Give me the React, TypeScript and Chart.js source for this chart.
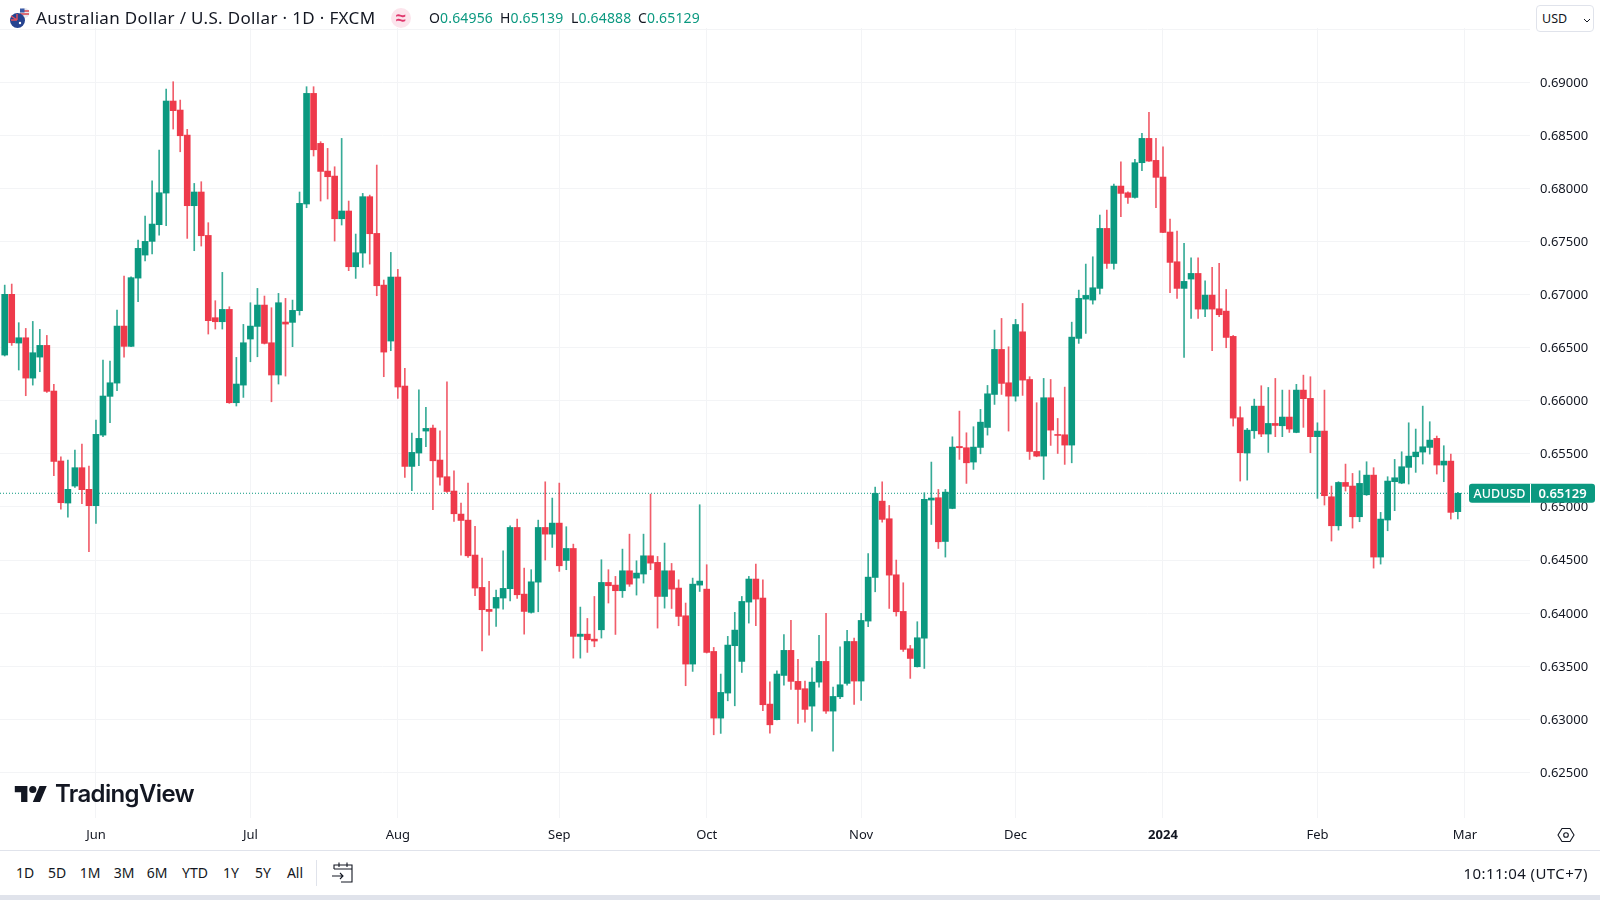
import { type FC, useEffect, useRef } from 'react';
import { Chart, registerables, type Plugin } from 'chart.js';

Chart.register(...registerables);

const opens = [
  0.66431, 0.67003, 0.66544, 0.66594, 0.66214, 0.66412, 0.66522, 0.66092, 0.65433, 0.65037,
  0.65197, 0.6537, 0.65166, 0.65012, 0.65677, 0.66042, 0.66167, 0.66704, 0.66513, 0.67156,
  0.67373, 0.67502, 0.67659, 0.67957, 0.68824, 0.68739, 0.68503, 0.67838, 0.67967, 0.67558,
  0.66783, 0.66745, 0.66861, 0.65982, 0.66148, 0.66582, 0.66701, 0.66902, 0.66547, 0.66243,
  0.66742, 0.66739, 0.66849, 0.67854, 0.68896, 0.68425, 0.68164, 0.68117, 0.67715, 0.67788,
  0.67263, 0.67392, 0.67923, 0.67577, 0.6709, 0.66563, 0.67166, 0.66139, 0.65382, 0.65508,
  0.65715, 0.65743, 0.65442, 0.65285, 0.6515, 0.64933, 0.64876, 0.64547, 0.64242, 0.64035,
  0.64047, 0.64142, 0.6423, 0.64807, 0.64179, 0.64007, 0.64292, 0.64807, 0.64744, 0.64848,
  0.64496, 0.64609, 0.63781, 0.63802, 0.63755, 0.63843, 0.64289, 0.64264, 0.64211, 0.64399,
  0.6433, 0.64368, 0.6454, 0.64478, 0.64157, 0.64399, 0.64236, 0.63975, 0.6352, 0.64264,
  0.64226, 0.63639, 0.63011, 0.63247, 0.63693, 0.63545, 0.64104, 0.64321, 0.64142, 0.63143,
  0.62996, 0.63413, 0.63649, 0.63357, 0.63288, 0.63124, 0.6335, 0.63545, 0.63077, 0.63212,
  0.63338, 0.63733, 0.6336, 0.63925, 0.64336, 0.65055, 0.64889, 0.64361, 0.64016, 0.63664,
  0.63495, 0.63765, 0.65065, 0.65087, 0.64675, 0.64986, 0.6557, 0.65558, 0.65423, 0.65561,
  0.65749, 0.6606, 0.66484, 0.6617, 0.66044, 0.6665, 0.66201, 0.65523, 0.65479, 0.66029,
  0.65683, 0.6568, 0.65583, 0.66588, 0.66958, 0.66949, 0.67059, 0.67624, 0.67294, 0.68023,
  0.6796, 0.67916, 0.68243, 0.68472, 0.68265, 0.68108, 0.6759, 0.6731, 0.67059, 0.67147,
  0.672, 0.66864, 0.66996, 0.66867, 0.66845, 0.66607, 0.65841, 0.65508, 0.65718, 0.6595,
  0.65687, 0.65787, 0.65765, 0.65847, 0.65702, 0.66101, 0.66023, 0.65662, 0.65715, 0.65096,
  0.64823, 0.65231, 0.65197, 0.64908, 0.65115, 0.653, 0.64528, 0.64877, 0.65238, 0.65225,
  0.65373, 0.65473, 0.65517, 0.65561, 0.65646, 0.65395, 0.65432, 0.64956,
];

const highs = [
  0.6709, 0.671, 0.66736, 0.66682, 0.66748, 0.66673, 0.66616, 0.66155, 0.65473, 0.65442,
  0.65536, 0.65593, 0.65385, 0.65819, 0.66384, 0.66375, 0.66855, 0.67175, 0.67169, 0.67514,
  0.6774, 0.68073, 0.68362, 0.68937, 0.69006, 0.68833, 0.68557, 0.68048, 0.68064, 0.67678,
  0.66943, 0.6721, 0.66886, 0.66409, 0.6672, 0.66924, 0.67059, 0.66987, 0.66877, 0.67012,
  0.66965, 0.66949, 0.67967, 0.68959, 0.68959, 0.68441, 0.68378, 0.68205, 0.68472, 0.67882,
  0.67571, 0.67954, 0.67938, 0.68221, 0.67138, 0.67398, 0.67238, 0.66305, 0.65696, 0.66104,
  0.65938, 0.65771, 0.65718, 0.66179, 0.65341, 0.65037, 0.65225, 0.64817, 0.64518, 0.64299,
  0.64217, 0.64587, 0.64823, 0.64886, 0.64424, 0.64409, 0.64876, 0.65237, 0.65084, 0.65225,
  0.64814, 0.6465, 0.64057, 0.6395, 0.64157, 0.64503, 0.64409, 0.64346, 0.64603, 0.64744,
  0.64493, 0.64744, 0.65121, 0.64534, 0.6466, 0.64468, 0.64314, 0.64095, 0.6433, 0.65021,
  0.64456, 0.63677, 0.63426, 0.63781, 0.64007, 0.64157, 0.64346, 0.64462, 0.64314, 0.63353,
  0.63457, 0.63799, 0.63931, 0.63564, 0.6336, 0.63485, 0.6379, 0.63997, 0.63303, 0.63683,
  0.63837, 0.63765, 0.63997, 0.64562, 0.65187, 0.65237, 0.65014, 0.645, 0.64286, 0.63696,
  0.63919, 0.65134, 0.65423, 0.65165, 0.65165, 0.65661, 0.65903, 0.65699, 0.65756, 0.65919,
  0.66145, 0.66666, 0.66776, 0.66509, 0.66767, 0.66917, 0.66227, 0.65982, 0.66211, 0.66201,
  0.65834, 0.66129, 0.66741, 0.67043, 0.67288, 0.67357, 0.6775, 0.67797, 0.68042, 0.68252,
  0.67969, 0.68274, 0.68519, 0.68717, 0.68472, 0.68393, 0.67712, 0.67599, 0.67483, 0.67348,
  0.67348, 0.67131, 0.67257, 0.67294, 0.67049, 0.66616, 0.65944, 0.6574, 0.66016, 0.66142,
  0.66126, 0.66211, 0.66101, 0.66101, 0.66155, 0.66242, 0.66227, 0.65793, 0.66101, 0.65197,
  0.65238, 0.65404, 0.65316, 0.65341, 0.65426, 0.6537, 0.64949, 0.65285, 0.65448, 0.6552,
  0.65793, 0.65734, 0.6595, 0.65803, 0.65668, 0.65577, 0.65498, 0.65139,
];

const lows = [
  0.66422, 0.66522, 0.6629, 0.66048, 0.66148, 0.66274, 0.66079, 0.65294, 0.6498, 0.64905,
  0.65185, 0.65031, 0.64578, 0.64845, 0.65662, 0.65794, 0.66095, 0.66412, 0.6651, 0.66933,
  0.67317, 0.67383, 0.67561, 0.67649, 0.6856, 0.68346, 0.6753, 0.67414, 0.67458, 0.66629,
  0.66676, 0.66676, 0.65976, 0.65951, 0.66032, 0.66368, 0.66415, 0.66535, 0.65991, 0.66158,
  0.66233, 0.6651, 0.66808, 0.67819, 0.68306, 0.67882, 0.67901, 0.67505, 0.67656, 0.67226,
  0.67153, 0.67257, 0.67288, 0.6699, 0.66227, 0.66472, 0.66023, 0.65278, 0.65153, 0.65388,
  0.65567, 0.64974, 0.65206, 0.65137, 0.64864, 0.64547, 0.64525, 0.64164, 0.63645, 0.63793,
  0.63875, 0.64038, 0.64116, 0.64138, 0.63802, 0.64, 0.64013, 0.645, 0.64619, 0.64393,
  0.64409, 0.63576, 0.63576, 0.6363, 0.63683, 0.63765, 0.64095, 0.63799, 0.64148, 0.64252,
  0.6417, 0.64283, 0.64409, 0.63859, 0.64047, 0.64044, 0.63881, 0.63316, 0.63451, 0.64204,
  0.63624, 0.62854, 0.62867, 0.63174, 0.63127, 0.63441, 0.63906, 0.63881, 0.6308, 0.6287,
  0.62993, 0.63322, 0.63281, 0.62961, 0.62973, 0.62889, 0.63303, 0.63055, 0.627, 0.63193,
  0.63322, 0.6314, 0.63178, 0.63872, 0.64201, 0.64857, 0.64044, 0.63972, 0.63639, 0.63385,
  0.63492, 0.63479, 0.64835, 0.64609, 0.64528, 0.64983, 0.65448, 0.65222, 0.65354, 0.65501,
  0.65677, 0.65966, 0.6606, 0.65715, 0.65997, 0.66051, 0.65448, 0.65473, 0.65259, 0.6558,
  0.65504, 0.65401, 0.65416, 0.66541, 0.66635, 0.66911, 0.67006, 0.67247, 0.67241, 0.67734,
  0.6786, 0.6791, 0.68167, 0.68255, 0.67819, 0.67583, 0.67018, 0.66965, 0.66409, 0.66776,
  0.66776, 0.66792, 0.66472, 0.66792, 0.665, 0.65762, 0.65244, 0.65253, 0.65646, 0.65662,
  0.65514, 0.65662, 0.65662, 0.65702, 0.65699, 0.6575, 0.65511, 0.65081, 0.65018, 0.64679,
  0.64782, 0.6515, 0.64801, 0.64861, 0.65109, 0.64424, 0.64462, 0.64776, 0.64965, 0.65219,
  0.65216, 0.65326, 0.65404, 0.65498, 0.6531, 0.65238, 0.64886, 0.64888,
];

const closes = [
  0.67003, 0.66547, 0.66594, 0.66214, 0.66453, 0.66522, 0.66089, 0.65429, 0.6504, 0.65166,
  0.6537, 0.65163, 0.65012, 0.65684, 0.66045, 0.6617, 0.66704, 0.66513, 0.6716, 0.67436,
  0.67502, 0.67665, 0.6796, 0.68824, 0.68733, 0.68497, 0.67838, 0.67967, 0.67555, 0.66755,
  0.66745, 0.66861, 0.65982, 0.66158, 0.66547, 0.66704, 0.66902, 0.66541, 0.66243, 0.66924,
  0.66723, 0.66852, 0.6786, 0.68896, 0.68365, 0.68161, 0.68111, 0.67715, 0.67788, 0.67263,
  0.67395, 0.67923, 0.67574, 0.67084, 0.66459, 0.67166, 0.6613, 0.65382, 0.65514, 0.65646,
  0.6574, 0.65435, 0.65281, 0.65146, 0.64936, 0.64873, 0.6454, 0.64236, 0.64032, 0.64016,
  0.64148, 0.64233, 0.64807, 0.64173, 0.64016, 0.64295, 0.64807, 0.64744, 0.64848, 0.64446,
  0.64609, 0.63781, 0.63802, 0.63749, 0.63737, 0.64289, 0.64258, 0.64211, 0.64399, 0.64273,
  0.64377, 0.6454, 0.64471, 0.64157, 0.64399, 0.64226, 0.63969, 0.6352, 0.64273, 0.64302,
  0.6363, 0.63011, 0.63253, 0.63699, 0.6384, 0.6411, 0.64321, 0.64132, 0.63137, 0.62948,
  0.63426, 0.63649, 0.63357, 0.63281, 0.63093, 0.6335, 0.63545, 0.63077, 0.63215, 0.63325,
  0.63733, 0.6336, 0.63931, 0.64339, 0.65128, 0.64883, 0.64358, 0.64013, 0.63658, 0.63573,
  0.63768, 0.65071, 0.65084, 0.64672, 0.6514, 0.65564, 0.65558, 0.65416, 0.65564, 0.65799,
  0.66066, 0.66484, 0.66164, 0.66044, 0.66719, 0.66195, 0.65523, 0.65479, 0.66029, 0.65724,
  0.65674, 0.65583, 0.666, 0.66965, 0.66993, 0.67065, 0.67624, 0.67294, 0.68023, 0.67954,
  0.67916, 0.68243, 0.68472, 0.68258, 0.68105, 0.67586, 0.67304, 0.67059, 0.67125, 0.672,
  0.66864, 0.66996, 0.66864, 0.66811, 0.66597, 0.65837, 0.65511, 0.65724, 0.6595, 0.65687,
  0.65787, 0.65768, 0.65847, 0.65734, 0.66101, 0.6602, 0.65662, 0.65715, 0.65106, 0.64823,
  0.65231, 0.65194, 0.64908, 0.65222, 0.653, 0.64528, 0.64886, 0.65244, 0.65275, 0.65379,
  0.65479, 0.65517, 0.65567, 0.6563, 0.65395, 0.65432, 0.64949, 0.65129,
];

const monthIndexes = [13, 35, 56, 79, 100, 122, 144, 165, 187, 208];
const monthLabels = ['Jun', 'Jul', 'Aug', 'Sep', 'Oct', 'Nov', 'Dec', '2024', 'Feb', 'Mar'];
const priceTicks = [
  0.625, 0.63, 0.635, 0.64, 0.645, 0.65, 0.655, 0.66, 0.665, 0.67, 0.675, 0.68, 0.685, 0.69, 0.695,
];
const rangeButtons = ['1D', '5D', '1M', '3M', '6M', 'YTD', '1Y', '5Y', 'All'];
const rangeCenters = [25, 57, 90, 124, 157, 195, 231, 263, 295];
const ohlcNames = ['O', 'H', 'L', 'C'];
const ohlcValues = ['0.64956', '0.65139', '0.64888', '0.65129'];
const ohlcLefts = [429, 500, 571, 638];

const UP = '#0b9980';
const DOWN = '#ee3a4b';
const UP_WICK = 'rgba(11, 153, 128, 0.82)';
const DOWN_WICK = 'rgba(238, 58, 75, 0.82)';
const TEXT = '#131722';
const GRID = '#f3f4f6';
const FONT = '"Noto Sans", sans-serif';

const lastClose = closes[closes.length - 1];
const bodyColors = closes.map((c, i) => (c >= opens[i] ? UP : DOWN));
const wickColors = closes.map((c, i) => (c >= opens[i] ? UP_WICK : DOWN_WICK));

// price tag sitting on the right axis
const priceTag: Plugin<'bar'> = {
  id: 'priceTag',
  afterDraw(chart) {
    const { ctx } = chart;
    const y = chart.scales.y.getPixelForValue(lastClose);
    ctx.save();
    ctx.fillStyle = UP;
    ctx.beginPath();
    ctx.roundRect(1469, y - 9.5, 126, 19, 3);
    ctx.fill();
    ctx.fillStyle = '#ffffff';
    ctx.fillRect(1530, y - 9.5, 1, 19);
    ctx.textBaseline = 'middle';
    ctx.textAlign = 'center';
    ctx.font = `500 12.5px ${FONT}`;
    ctx.fillText('AUDUSD', 1499.5, y + 1);
    ctx.font = `600 13px ${FONT}`;
    ctx.fillText(lastClose.toFixed(5), 1562.5, y + 1);
    ctx.restore();
  },
};

const CandleChart: FC = () => {
  const chartRef = useRef<HTMLCanvasElement>(null);

  useEffect(() => {
    if (!chartRef.current) return;

    const chart = new Chart(chartRef.current, {
      type: 'bar',
      data: {
        datasets: [
          {
            data: closes.map((c, i) => ({ x: i, y: [opens[i], c] })),
            backgroundColor: bodyColors,
            barThickness: 6,
            grouped: false,
            order: 1,
          },
          {
            data: closes.map((_, i) => ({ x: i, y: [lows[i], highs[i]] })),
            backgroundColor: wickColors,
            barThickness: 1,
            grouped: false,
            order: 2,
          },
          {
            type: 'line',
            data: [
              { x: -0.67, y: lastClose },
              { x: 217.28, y: lastClose },
            ],
            borderColor: UP,
            borderWidth: 1,
            borderDash: [1, 2],
            pointRadius: 0,
            order: 3,
          },
        ] as any,
      },
      options: {
        animation: false,
        responsive: false,
        layout: { padding: { top: 28 } },
        plugins: { legend: { display: false }, tooltip: { enabled: false } },
        scales: {
          x: {
            type: 'linear',
            min: -0.67,
            max: 217.28,
            offset: false,
            grid: { color: GRID, offset: false, drawTicks: false },
            border: { display: false },
            afterBuildTicks: (scale) => {
              scale.ticks = monthIndexes.map((value) => ({ value }));
            },
            afterFit: (scale) => {
              scale.height = 32;
            },
            ticks: {
              autoSkip: false,
              maxRotation: 0,
              padding: 9,
              color: TEXT,
              font: (ctx) => ({
                family: FONT,
                size: 13,
                weight: ctx.tick && ctx.tick.value === 165 ? 'bold' : 'normal',
              }),
              callback: (value) => monthLabels[monthIndexes.indexOf(Number(value))],
            },
          },
          y: {
            position: 'right',
            min: 0.6207,
            max: 0.69512,
            grid: { color: GRID, drawTicks: false },
            border: { display: false },
            afterBuildTicks: (scale) => {
              scale.ticks = priceTicks.map((value) => ({ value }));
            },
            afterFit: (scale) => {
              scale.width = 70;
            },
            ticks: {
              padding: 10,
              labelOffset: 0.7,
              color: TEXT,
              font: { family: FONT, size: 13 },
              callback: (value) => (Number(value) > 0.694 ? '' : Number(value).toFixed(5)),
            },
          },
        },
      },
      plugins: [priceTag],
    });

    return () => chart.destroy();
  }, []);

  return <canvas ref={chartRef} width={1600} height={850} style={{ position: 'absolute', left: 0, top: 0 }} />;
};

const App: FC = () => (
  <div style={{ position: 'fixed', inset: 0, background: '#fff', overflow: 'hidden', fontFamily: FONT, color: TEXT }}>
    <CandleChart />

    {/* header */}
    <svg width="22" height="22" style={{ position: 'absolute', left: 9, top: 7 }}>
      <circle cx="15.5" cy="6" r="5" fill="#e8e8ee" />
      <path d="M11 4h9M11 7h9" stroke="#d9434e" strokeWidth="1.4" />
      <rect x="11" y="1.5" width="4.5" height="4" fill="#3b5aa6" />
      <circle cx="8.5" cy="13.5" r="7.5" fill="#26438f" />
      <path d="M2 9l6 4M8 7v6M2 13h6" stroke="#e4505c" strokeWidth="1.4" />
      <circle cx="11" cy="16" r="1.2" fill="#fff" />
    </svg>
    <div
      style={{
        position: 'absolute', left: 36, top: 6, fontSize: 17, lineHeight: '24px', letterSpacing: 0.34, whiteSpace: 'nowrap',
      }}
    >
      Australian Dollar / U.S. Dollar · 1D · FXCM
    </div>
    <div
      style={{
        position: 'absolute', left: 391, top: 8, width: 20, height: 20, borderRadius: 10, background: '#fce4ec',
        color: '#e0396f', fontSize: 18, fontWeight: 600, lineHeight: '19px', textAlign: 'center',
      }}
    >
      ≈
    </div>
    {ohlcNames.map((name, i) => (
      <div
        key={name}
        style={{
          position: 'absolute', left: ohlcLefts[i], top: 8, fontSize: 14, lineHeight: '20px', letterSpacing: 0.15,
          whiteSpace: 'nowrap',
        }}
      >
        {name}
        <span style={{ color: UP }}>{ohlcValues[i]}</span>
      </div>
    ))}
    <div
      style={{
        position: 'absolute', left: 1536, top: 5, width: 58, height: 27, border: '1px solid #e0e3eb', borderRadius: 4,
        background: '#fff', fontSize: 12.5, lineHeight: '26px', paddingLeft: 5, boxSizing: 'border-box',
      }}
    >
      USD
      <svg width="8" height="5" style={{ position: 'absolute', left: 46, top: 12 }}>
        <path d="M1 1l3 3 3-3" fill="none" stroke={TEXT} strokeWidth="1" />
      </svg>
    </div>

    {/* watermark */}
    <svg width="36" height="18" viewBox="0 3 36 20" style={{ position: 'absolute', left: 13, top: 785 }}>
      <path d="M14 22H7V11H0V4h14v18zM28 22h-8l7.5-18h8L28 22z" fill={TEXT} />
      <circle cx="20" cy="8" r="4" fill={TEXT} />
    </svg>
    <div
      style={{
        position: 'absolute', left: 55, top: 778, fontFamily: 'Inter, sans-serif', fontWeight: 600, fontSize: 24,
        lineHeight: '32px', letterSpacing: -0.65,
      }}
    >
      TradingView
    </div>

    {/* settings gear */}
    <svg width="18" height="18" style={{ position: 'absolute', left: 1557, top: 826 }}>
      <path d="M5 2.5h8L17 9l-4 6.5H5L1 9z" fill="none" stroke={TEXT} strokeWidth="1.1" />
      <circle cx="9" cy="9" r="2.3" fill="none" stroke={TEXT} strokeWidth="1.1" />
    </svg>

    {/* footer */}
    <div style={{ position: 'absolute', left: 0, top: 850, width: 1600, height: 1, background: '#e0e3eb' }} />
    {rangeButtons.map((label, i) => (
      <div
        key={label}
        style={{
          position: 'absolute', left: rangeCenters[i] - 25, width: 50, top: 862, textAlign: 'center', fontSize: 14,
          lineHeight: '22px',
        }}
      >
        {label}
      </div>
    ))}
    <div style={{ position: 'absolute', left: 316, top: 860, width: 1, height: 26, background: '#e0e3eb' }} />
    <svg width="24" height="24" style={{ position: 'absolute', left: 331, top: 861 }}>
      <path
        d="M3 8V4h18v17H10M3 8h18M8 1.5V6M16 1.5V6M1 15h11M9 12l3 3-3 3"
        fill="none"
        stroke={TEXT}
        strokeWidth="1.1"
      />
    </svg>
    <div style={{ position: 'absolute', right: 12, top: 862, fontSize: 15, lineHeight: '22px', letterSpacing: 0.4 }}>
      10:11:04 (UTC+7)
    </div>
    <div style={{ position: 'absolute', left: 0, top: 895, width: 1600, height: 5, background: '#e0e3eb' }} />
  </div>
);

export default App;
